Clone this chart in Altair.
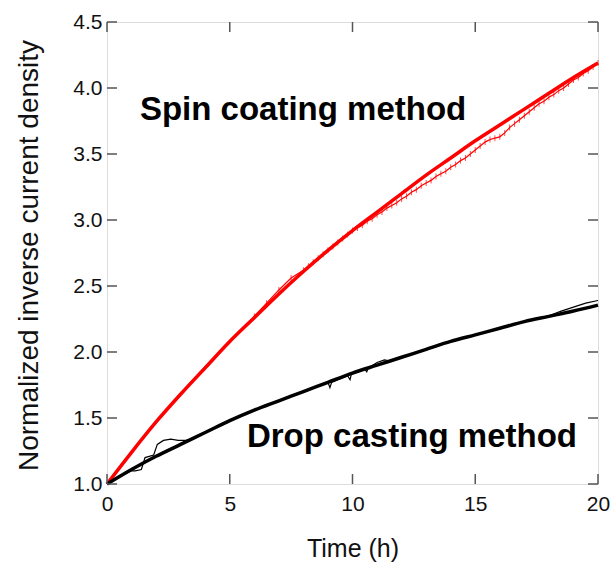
import altair as alt
import pandas as pd

# ---- data ----
hours = list(range(21))
spin_fit = [1.00, 1.24, 1.47, 1.68, 1.88, 2.08, 2.26, 2.44, 2.61, 2.77, 2.92,
            3.06, 3.20, 3.34, 3.47, 3.60, 3.72, 3.84, 3.96, 4.08, 4.19]
drop_fit = [1.00, 1.11, 1.21, 1.30, 1.39, 1.48, 1.56, 1.63, 1.70, 1.77, 1.84,
            1.90, 1.96, 2.02, 2.08, 2.13, 2.18, 2.23, 2.27, 2.31, 2.355]

spin_raw_t = [0, 0.5, 1, 1.5, 2, 2.5, 3, 3.5, 4, 4.5, 5, 5.5, 6, 6.5, 7, 7.5,
              8.0, 8.2, 8.4, 8.6, 8.8, 9.0, 9.2, 9.4, 9.6, 9.8,
              10.0, 10.2, 10.4, 10.6, 10.8, 11.0, 11.2, 11.4, 11.6, 11.8,
              12.0, 12.2, 12.4, 12.6, 12.8, 13.0, 13.2, 13.4, 13.6, 13.8,
              14.0, 14.2, 14.4, 14.6, 14.8, 15.0, 15.2, 15.4, 15.6, 15.8,
              16.0, 16.2, 16.4, 16.6, 16.8, 17.0, 17.2, 17.4, 17.6, 17.8,
              18.0, 18.2, 18.4, 18.6, 18.8, 19.0, 19.2, 19.4, 19.6, 19.8, 20.0]
spin_raw_v = [1.00, 1.12, 1.24, 1.36, 1.47, 1.58, 1.69, 1.79, 1.89, 1.98, 2.08,
              2.18, 2.27, 2.37, 2.47, 2.56,
              2.62, 2.65, 2.68, 2.71, 2.74, 2.77, 2.80, 2.83, 2.86, 2.89,
              2.92, 2.94, 2.96, 2.99, 3.01, 3.04, 3.06, 3.09, 3.11, 3.13,
              3.16, 3.18, 3.21, 3.23, 3.26, 3.28, 3.30, 3.33, 3.35, 3.37,
              3.40, 3.42, 3.45, 3.47, 3.50, 3.53, 3.56, 3.59, 3.61, 3.62,
              3.63, 3.66, 3.70, 3.73, 3.76, 3.79, 3.82, 3.85, 3.88, 3.90,
              3.93, 3.95, 3.98, 4.00, 4.03, 4.06, 4.08, 4.11, 4.13, 4.16, 4.19]

drop_raw_t = [0, 0.5, 1.0, 1.15, 1.4, 1.55, 1.9, 2.05, 2.3, 2.6, 2.9, 3.2, 3.5,
              4, 5, 6, 7, 8, 9.0, 9.08, 9.15, 9.8, 9.9, 9.95, 10.5, 10.58, 10.65,
              11.0, 11.3, 11.6, 12, 13, 14, 15, 16, 17, 18, 18.5, 19, 19.5, 20]
drop_raw_v = [1.00, 1.055, 1.10, 1.10, 1.11, 1.20, 1.22, 1.30, 1.33, 1.34, 1.33,
              1.33, 1.34, 1.39, 1.48, 1.56, 1.63, 1.70, 1.77, 1.73, 1.77, 1.82,
              1.79, 1.83, 1.87, 1.85, 1.88, 1.92, 1.94, 1.93, 1.96, 2.02, 2.08,
              2.13, 2.18, 2.23, 2.275, 2.31, 2.34, 2.37, 2.39]

x_ticks = [0, 5, 10, 15, 20]
y_ticks = [1.0, 1.5, 2.0, 2.5, 3.0, 3.5, 4.0, 4.5]

labels = ["Spin coating method", "Drop casting method"]
label_t = [1.34, 5.70]
label_v = [3.758, 1.28]

W, H = 491, 462
FONT = "Liberation Sans"
AXIS_COLOR = "#555555"

xs = alt.Scale(domain=[0, 20], nice=False, zero=False)
ys = alt.Scale(domain=[1.0, 4.5], nice=False, zero=False)

fit_df = pd.DataFrame({"t": hours, "spin": spin_fit, "drop": drop_fit})
spin_raw_df = pd.DataFrame({"t": spin_raw_t, "v": spin_raw_v})
drop_raw_df = pd.DataFrame({"t": drop_raw_t, "v": drop_raw_v})
xt_df = pd.DataFrame({"t": x_ticks})
yt_df = pd.DataFrame({"v": y_ticks})
lab_df = pd.DataFrame({"label": labels, "t": label_t, "v": label_v})

x_axis = alt.Axis(values=x_ticks, title="Time (h)", grid=False, ticks=False,
                  tickSize=0, domain=False, labelFont=FONT, labelFontSize=21,
                  labelColor="#111", labelPadding=9, titleFont=FONT,
                  titleFontSize=25, titleFontWeight="normal", titleColor="#111",
                  titleY=64, titleBaseline="middle", labelFlush=False)
y_axis = alt.Axis(values=y_ticks, format=".1f",
                  title="Normalized inverse current density", grid=False,
                  ticks=False, tickSize=0, domain=False, labelFont=FONT,
                  labelFontSize=21, labelColor="#111", labelPadding=5,
                  titleFont=FONT, titleFontSize=28, titleFontWeight="normal",
                  titleColor="#111", titleX=-78, titleY=H / 2 + 2, titleAngle=-90,
                  titleAlign="center", titleBaseline="middle", labelFlush=False)

spin_raw = alt.Chart(spin_raw_df).mark_line(color="#ff0000", strokeWidth=1.2).encode(
    x=alt.X("t:Q", scale=xs, axis=x_axis),
    y=alt.Y("v:Q", scale=ys, axis=y_axis),
)
spin_hatch = alt.Chart(spin_raw_df).transform_filter("datum.t >= 6").mark_tick(
    color="#ff0000", orient="vertical", size=6, thickness=1).encode(
    x=alt.X("t:Q", scale=xs), y=alt.Y("v:Q", scale=ys))
spin_line = alt.Chart(fit_df).mark_line(color="#ff0000", strokeWidth=3.5,
                                        interpolate="monotone").encode(
    x=alt.X("t:Q", scale=xs), y=alt.Y("spin:Q", scale=ys))
drop_raw = alt.Chart(drop_raw_df).mark_line(color="#000000", strokeWidth=1.2).encode(
    x=alt.X("t:Q", scale=xs), y=alt.Y("v:Q", scale=ys))
drop_line = alt.Chart(fit_df).mark_line(color="#000000", strokeWidth=3.5,
                                        interpolate="monotone").encode(
    x=alt.X("t:Q", scale=xs), y=alt.Y("drop:Q", scale=ys))

tick_style = dict(color=AXIS_COLOR, strokeWidth=1.5)
bottom_ticks = alt.Chart(xt_df).mark_rule(**tick_style).encode(
    x=alt.X("t:Q", scale=xs), y=alt.value(H), y2=alt.value(H - 10))
top_ticks = alt.Chart(xt_df).mark_rule(**tick_style).encode(
    x=alt.X("t:Q", scale=xs), y=alt.value(0), y2=alt.value(10))
left_ticks = alt.Chart(yt_df).mark_rule(**tick_style).encode(
    y=alt.Y("v:Q", scale=ys), x=alt.value(0), x2=alt.value(10))
right_ticks = alt.Chart(yt_df).mark_rule(**tick_style).encode(
    y=alt.Y("v:Q", scale=ys), x=alt.value(W), x2=alt.value(W - 10))

texts = alt.Chart(lab_df).mark_text(align="left", baseline="alphabetic",
                                    font=FONT, fontSize=33, fontWeight="bold",
                                    color="#000").encode(
    x=alt.X("t:Q", scale=xs), y=alt.Y("v:Q", scale=ys), text="label:N")

chart = alt.layer(spin_raw, spin_hatch, spin_line, drop_raw, drop_line,
                  bottom_ticks, top_ticks, left_ticks, right_ticks, texts).properties(
    width=W, height=H, autosize="none",
    padding={"left": 107, "top": 22, "right": 13, "bottom": 79},
).configure_view(stroke=AXIS_COLOR, strokeWidth=1.5).configure(background="white")

chart.save("out.html", embed_options={"renderer": "svg", "actions": False})
